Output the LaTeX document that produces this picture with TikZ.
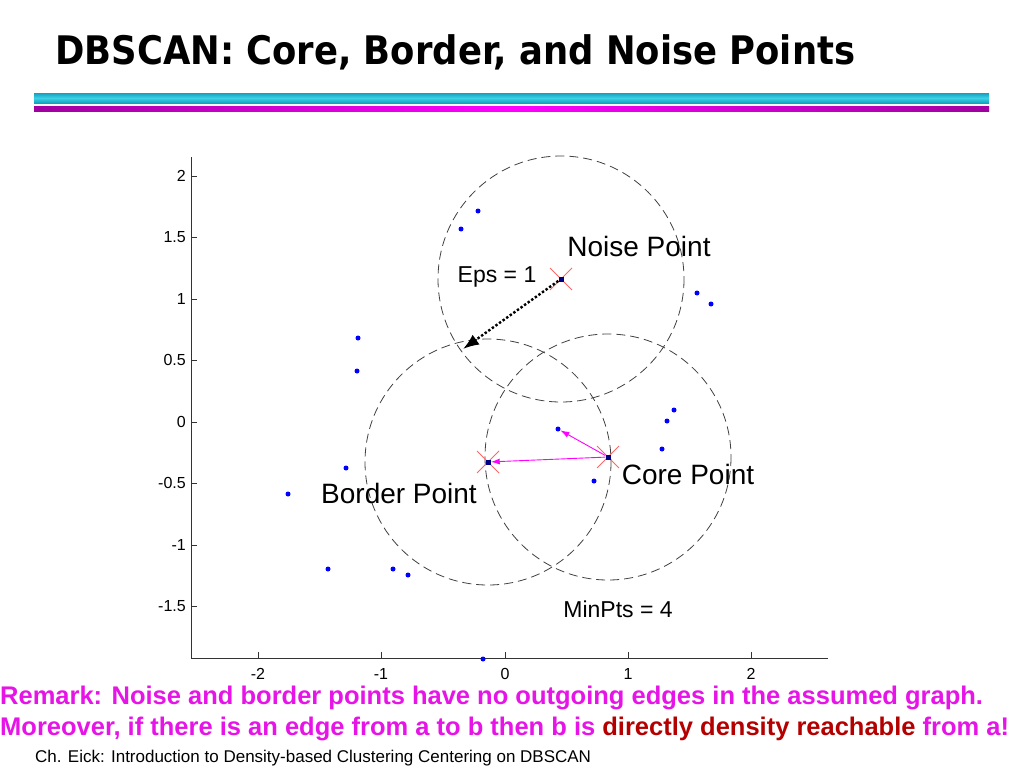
\documentclass[tikz,border=0pt]{standalone}
\usepackage{fontspec}
\setmainfont{Liberation Sans}
\newfontfamily\titlefont{DejaVu Sans Condensed}
\usetikzlibrary{arrows.meta}
\definecolor{mag}{RGB}{230,20,230}
\definecolor{magline}{RGB}{255,0,255}
\definecolor{magdark}{RGB}{160,0,160}
\definecolor{dred}{RGB}{180,0,0}
\definecolor{pblue}{RGB}{0,0,255}
\definecolor{cy1}{RGB}{20,160,190}
\definecolor{cy2}{RGB}{60,210,230}
\begin{document}
\begin{tikzpicture}[x=1pt,y=-1pt,
 pt/.style={circle,fill=pblue,inner sep=0pt,minimum size=5pt},
 ring/.style={draw=black!75,dash pattern=on 9pt off 5pt,line width=0.8pt},
 xm/.style={draw=red!60,line width=0.8pt},
 lab/.style={font=\fontsize{23}{23}\selectfont,inner sep=0pt},
 big/.style={font=\fontsize{28}{28}\selectfont,inner sep=0pt},
 tk/.style={font=\fontsize{16}{16}\selectfont,inner sep=0pt},
 rem/.style={font=\bfseries\fontsize{25.5}{25}\selectfont,text=mag,anchor=west,inner sep=0pt}]
\useasboundingbox (0,0) rectangle (1024,768);
\node[anchor=west,inner sep=0pt] (title) at (55,52) {\resizebox{800pt}{!}{\titlefont\bfseries DBSCAN: Core, Border, and Noise Points}};
\fill[top color=cy1,bottom color=cy1,middle color=cy2] (34,93) rectangle (989,103);
\fill[left color=magdark,right color=magdark,middle color=magline] (34,106) rectangle (989,111);
% axes
\draw[black!80,line width=0.6pt] (191,157) -- (191,658) -- (828,658);
\foreach \v/\yy in {2/176,1.5/237,1/299,0.5/360,0/422,-0.5/483,-1/545,-1.5/606}{
 \draw[black!80] (191,\yy) -- (197,\yy);
 \node[tk,anchor=east] (y\yy) at (186,\yy) {\v};}
\foreach \v/\xx in {-2/258,-1/381,0/505,1/628,2/751}{
 \draw[black!80] (\xx,658) -- (\xx,652);
 \node[tk] (x\xx) at (\xx,674) {\v};}
% circles
\draw[ring] (561,279) circle (123);
\draw[ring] (488,462) circle (123);
\draw[ring] (608,457) circle (123);
% points
\foreach \px/\py [count=\i] in {478/211,461/229,358/338,357/371,346/468,288/494,328/569,393/569,408/575,483/659,697/293,711/304,674/410,667/421,662/449,594/481}{\node[pt] (p\i) at (\px,\py) {};}
\node[pt] (tgt) at (558,429) {};
% special points
\foreach \n/\px/\py in {noise/561/279,border/488/462,core/608/457}{
 \draw[xm] (\px-11,\py-11) -- (\px+11,\py+11) (\px-11,\py+11) -- (\px+11,\py-11);
 \node[fill=blue!50!black,inner sep=0pt,minimum size=5pt] (\n) at (\px,\py) {};}
\coordinate (epsend) at (463,349);
\draw[line width=2.4pt,dotted,-{Latex[length=16pt,width=12pt]}] (noise) -- (epsend);
\draw[magline,line width=0.9pt,-{Latex[length=9pt,width=6pt]}] (core) -- (border);
\draw[magline,line width=0.9pt,-{Latex[length=9pt,width=6pt]}] (core) -- (tgt);
% labels
\node[big] (nl) at (639,246) {Noise Point};
\node[lab] (el) at (497,277) {Eps = 1};
\node[big] (bl) at (399,493) {Border Point};
\node[big] (cl) at (688,474) {Core Point};
\node[lab] (ml) at (618,609) {MinPts = 4};
% remarks
\node[rem] (r1) at (0,698) {Remark: Noise and border points have no outgoing edges in the assumed graph.};
\node[rem] (r2) at (0,729) {Moreover, if there is an edge from a to b then b is \textcolor{dred}{directly density reachable} from a!};
\node[anchor=west,inner sep=0pt,font=\fontsize{17}{17}\selectfont] (ft) at (35,758) {Ch. Eick: Introduction to Density-based Clustering Centering on DBSCAN};
\end{tikzpicture}
\end{document}
